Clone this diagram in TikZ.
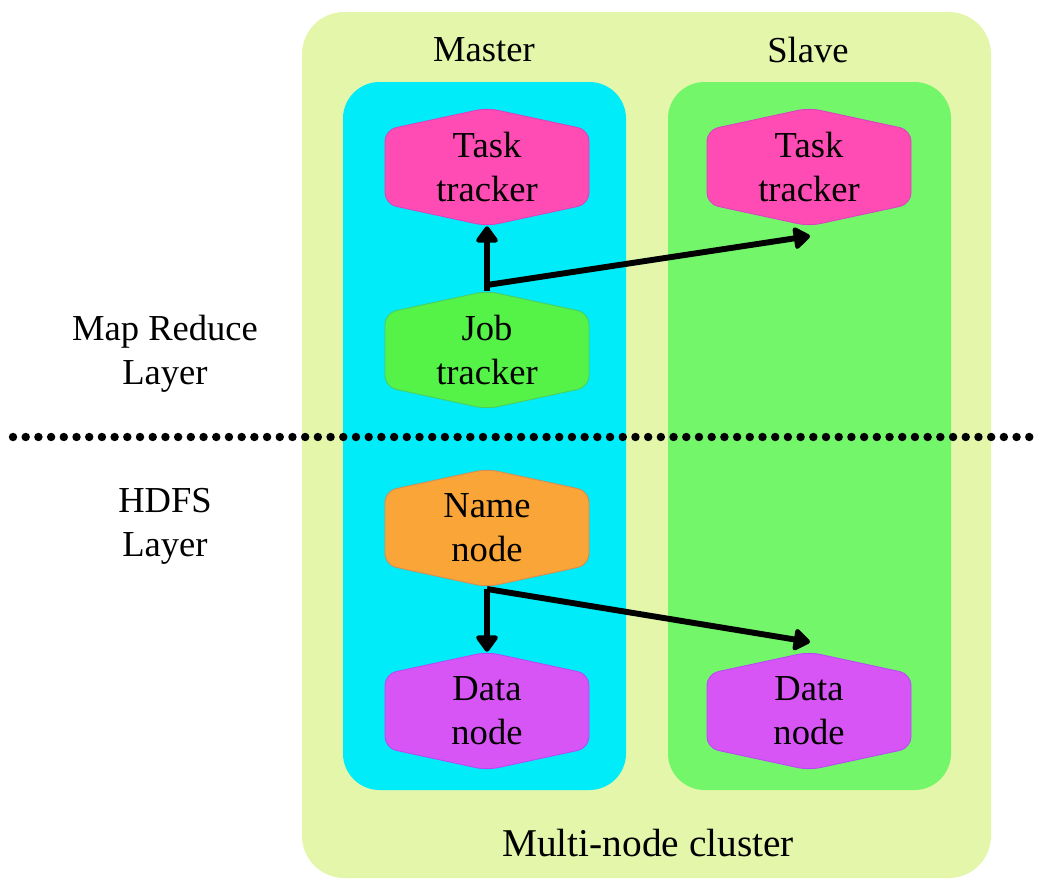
\documentclass[tikz,border=0pt]{standalone}
\usepackage{fontspec}
\setmainfont{Liberation Serif}
\usetikzlibrary{arrows.meta}
\definecolor{clusterbg}{RGB}{228,246,170}
\definecolor{mastercol}{RGB}{0,236,248}
\definecolor{slavecol}{RGB}{115,246,106}
\definecolor{taskpink}{RGB}{255,76,180}
\definecolor{jobgreen}{RGB}{85,242,72}
\definecolor{nameorange}{RGB}{250,165,55}
\definecolor{datapurple}{RGB}{215,85,245}
\tikzset{
  hexbox/.style={align=center, inner sep=0pt, minimum width=5.1cm, minimum height=2.95cm},
  link/.style={line width=4.2pt, -{Triangle[length=4.5mm,width=6.2mm,round]}},
  lbl/.style={align=center, inner sep=0pt}
}
% hexagon: name, centre, colour, text
\newcommand{\hexnode}[4]{%
  \filldraw[fill=#3, draw=#3!85!blue, line width=0.6pt, rounded corners=8pt] (#2) ++(0,-59) -- ++(102,22) -- ++(0,74) -- ++(-102,22) -- ++(-102,-22) -- ++(0,-74) -- cycle;
  \node[hexbox] (#1) at (#2) {#4};
}
\begin{document}
\begin{tikzpicture}[x=0.025cm,y=-0.025cm,font=\fontsize{26}{31.5}\selectfont]
\useasboundingbox (0,0) rectangle (1042,883);
% cluster and columns
\fill[clusterbg, rounded corners=30] (302,12) rectangle (991,878);
\fill[mastercol, rounded corners=26] (343,82) rectangle (626,790);
\fill[slavecol, rounded corners=26] (668,82) rectangle (951,790);
\node[lbl] (master) at (484,50) {Master};
\node[lbl] (slave) at (808,50) {Slave};
\node[lbl, font=\fontsize{28}{34}\selectfont] (cluster) at (648,843) {Multi-node cluster};
% layers
\node[lbl] (mrlayer) at (165,354) {Map Reduce\\Layer};
\node[lbl] (hdfslayer) at (165,526) {HDFS\\Layer};
\draw[line width=6pt, line cap=round, dash pattern=on 0pt off 0.3175cm] (13,437) -- (1032,437);
% nodes
\hexnode{task1}{487,167}{taskpink}{Task\\tracker}
\hexnode{task2}{809,167}{taskpink}{Task\\tracker}
\hexnode{job}{487,350}{jobgreen}{Job\\tracker}
\hexnode{name}{487,528}{nameorange}{Name\\node}
\hexnode{data1}{487,711}{datapurple}{Data\\node}
\hexnode{data2}{809,711}{datapurple}{Data\\node}
% arrows
\coordinate (jt) at (487,285);
\coordinate (nn) at (487,589);
\coordinate (t2in) at (810,236);
\coordinate (d2in) at (810,642);
\draw[link] (jt) -- (task1.south);
\draw[link] (jt) -- (t2in);
\draw[line width=4.2pt] (job.north) -- (jt);
\draw[link] (nn) -- (data1.north);
\draw[link] (nn) -- (d2in);
\end{tikzpicture}
\end{document}
